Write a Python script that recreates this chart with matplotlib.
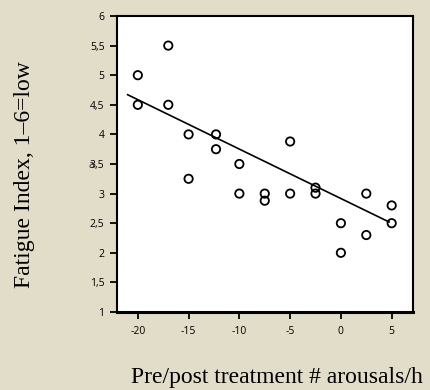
import matplotlib
matplotlib.use("Agg")
import matplotlib.pyplot as plt

# arousal change vs fatigue index
x_vals = [-20, -20, -17, -17, -15, -15, -12.3, -12.3, -10, -10, -7.5, -7.5,
          -5, -5, -2.5, -2.5, 0, 0, 2.5, 2.5, 5, 5]
y_vals = [5.0, 4.5, 5.5, 4.5, 4.0, 3.25, 4.0, 3.75, 3.5, 3.0, 3.0, 2.88,
          3.88, 3.0, 3.1, 3.0, 2.5, 2.0, 3.0, 2.3, 2.8, 2.5]

# fitted line end points
fit_x = [-21, 4.75]
fit_y = [4.67, 2.52]

y_ticks = [1, 1.5, 2, 2.5, 3, 3.5, 4, 4.5, 5, 5.5, 6]
y_ticklabels = ['1', '1,5', '2', '2,5', '3', '3,5', '4', '4,5', '5', '5,5', '6']
x_ticks = [-20, -15, -10, -5, 0, 5]
x_ticklabels = ['-20', '-15', '-10', '-5', '0', '5']

bg = '#e2ddc8'
fig = plt.figure(figsize=(4.31, 3.90), dpi=100, facecolor=bg)
ax = fig.add_axes([117/431, 1-312/390, 296/431, 296/390])
ax.set_facecolor('white')

ax.plot(fit_x, fit_y, color='black', lw=1.2, zorder=2)
ax.scatter(x_vals, y_vals, s=36, facecolors='none', edgecolors='black',
           linewidths=1.3, zorder=3)

ax.set_xlim(-22.05, 7.1)
ax.set_ylim(1, 6)
ax.set_xticks(x_ticks)
ax.set_xticklabels(x_ticklabels)
ax.set_yticks(y_ticks)
ax.set_yticklabels(y_ticklabels)

for lab in ax.get_xticklabels() + ax.get_yticklabels():
    lab.set_fontfamily('Open Sans')
    lab.set_fontsize(7.5)
ax.tick_params(axis='both', direction='out', length=5, width=1.3,
               colors='black')
ax.tick_params(axis='y', pad=4)
ax.tick_params(axis='x', pad=5)

for side in ['left', 'top', 'right']:
    ax.spines[side].set_linewidth(1.5)
ax.spines['bottom'].set_linewidth(2.2)

# stray glyph overlapping the 3,5 label
fig.text(91/431, 1-165/390, 'a', fontsize=7.5, family='Open Sans',
         color='#333333', ha='center', va='center')

fig.text(25/431, 1-175/390, 'Fatigue Index, 1\u20136=low', rotation=90,
         fontsize=17, family='Liberation Serif', ha='center', va='center')
fig.text(277/431, 1-378/390, 'Pre/post treatment # arousals/h',
         fontsize=17, family='Liberation Serif', ha='center', va='center')

fig.savefig('out.png', dpi=100, facecolor=bg)
